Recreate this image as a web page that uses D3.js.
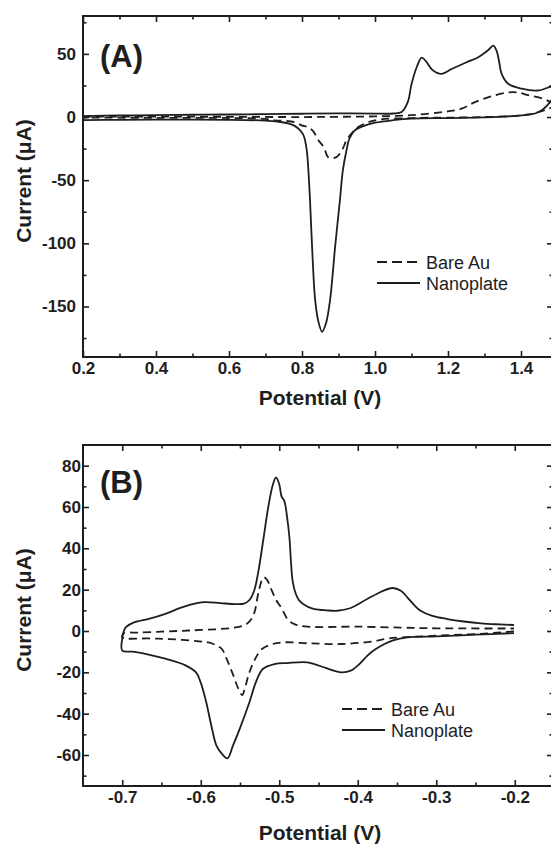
<!DOCTYPE html>
<html>
<head>
<meta charset="utf-8">
<script src="https://cdn.jsdelivr.net/npm/d3@7"></script>
<style>
  html, body { margin: 0; padding: 0; background: #fff; }
  svg { display: block; }
</style>
</head>
<body>
<svg id="fig" width="551" height="845"></svg>
<script>
// ---------- Panel A: potential (V) vs current (µA) ----------
const aXTicks = [0.2, 0.4, 0.6, 0.8, 1.0, 1.2, 1.4];
const aXMinor = [0.3, 0.5, 0.7, 0.9, 1.1, 1.3];
const aYTicks = [50, 0, -50, -100, -150];
const aYMinor = [75, 25, -25, -75, -125, -175];

// Nanoplate electrode, forward (anodic) sweep
const aNanoForward = [
  [0.20, 0.8], [0.30, 1.2], [0.40, 1.5], [0.50, 1.8], [0.60, 2.0], [0.70, 2.3],
  [0.80, 2.6], [0.90, 2.9], [1.00, 2.7], [1.05, 2.8], [1.073, 4], [1.09, 12],
  [1.10, 26], [1.115, 40], [1.128, 47], [1.14, 44], [1.155, 38], [1.17, 35],
  [1.183, 34.2], [1.21, 38], [1.251, 43.4], [1.283, 47.4], [1.31, 53],
  [1.324, 56.6], [1.333, 52.6], [1.34, 44], [1.347, 34.2], [1.365, 26.3],
  [1.402, 22.4], [1.447, 21], [1.482, 24.2], [1.50, 26]
];
// Nanoplate electrode, reverse (cathodic) sweep
const aNanoReverse = [
  [1.50, 22], [1.48, 12], [1.46, 6], [1.44, 3], [1.41, 1.5], [1.35, 0.3],
  [1.30, -0.3], [1.20, -0.8], [1.10, -1.3], [1.05, -2.5], [1.00, -4.5],
  [0.97, -7], [0.945, -10.5], [0.93, -17], [0.922, -26.3], [0.912, -42],
  [0.904, -65.7], [0.897, -85], [0.89, -105], [0.877, -144.7], [0.866, -163],
  [0.855, -170], [0.845, -162], [0.836, -144.7], [0.828, -105], [0.822, -66],
  [0.817, -40], [0.813, -26.3], [0.805, -15], [0.795, -10.5], [0.78, -7],
  [0.762, -5], [0.73, -3.5], [0.70, -2.8], [0.60, -2.2], [0.50, -2.1],
  [0.40, -2.1], [0.30, -2.2], [0.20, -2.4]
];
// Bare Au electrode, forward sweep
const aBareForward = [
  [0.20, 0.3], [0.40, 0.3], [0.60, 0.2], [0.80, 0.0], [0.90, 0.2], [1.00, 0.5],
  [1.10, 1.5], [1.20, 4.5], [1.237, 6.6], [1.274, 11.8], [1.32, 16.5],
  [1.365, 19.5], [1.39, 19.5], [1.42, 17.3], [1.46, 14.5], [1.48, 12], [1.50, 9]
];
// Bare Au electrode, reverse sweep
const aBareReverse = [
  [1.50, 9], [1.48, 7], [1.45, 4], [1.42, 2], [1.38, 0.8], [1.30, 0.0],
  [1.20, -0.5], [1.10, -0.8], [1.00, -2.6], [0.954, -7.9], [0.936, -13],
  [0.922, -18.4], [0.91, -26], [0.895, -31.6], [0.883, -32.5], [0.871, -31.6],
  [0.86, -24], [0.845, -18.4], [0.83, -11], [0.816, -8], [0.799, -6.6],
  [0.78, -4], [0.75, -3], [0.726, -2.6], [0.70, -1.5], [0.60, -0.8],
  [0.40, -0.6], [0.20, -0.5]
];

// ---------- Panel B ----------
const bXTicks = [-0.7, -0.6, -0.5, -0.4, -0.3, -0.2];
const bXMinor = [-0.65, -0.55, -0.45, -0.35, -0.25];
const bYTicks = [80, 60, 40, 20, 0, -20, -40, -60];
const bYMinor = [70, 50, 30, 10, -10, -30, -50, -70];

// Nanoplate electrode, reverse sweep (from -0.2 V down to -0.7 V)
const bNanoReverse = [
  [-0.201, -1], [-0.25, -1.8], [-0.30, -2.6], [-0.337, -3.1], [-0.355, -4.5],
  [-0.366, -6.3], [-0.378, -9], [-0.388, -12], [-0.398, -16], [-0.409, -19.2],
  [-0.421, -20], [-0.44, -18], [-0.464, -15.2], [-0.49, -15.5], [-0.506, -16],
  [-0.521, -18.4], [-0.53, -25], [-0.538, -34.5], [-0.55, -47], [-0.559, -55.5],
  [-0.566, -61.6], [-0.574, -59], [-0.58, -55.5], [-0.587, -45], [-0.593, -34.5],
  [-0.60, -25], [-0.606, -20], [-0.62, -16.5], [-0.644, -13.5], [-0.665, -11.5],
  [-0.687, -10], [-0.70, -9.5]
];
// Nanoplate electrode, forward sweep (from -0.7 V up to -0.2 V)
const bNanoForward = [
  [-0.70, -3.5], [-0.698, 0], [-0.695, 2], [-0.685, 4.2], [-0.665, 6],
  [-0.646, 8.2], [-0.624, 11.4], [-0.605, 13.5], [-0.594, 14], [-0.575, 13.5],
  [-0.556, 13], [-0.545, 13.2], [-0.538, 15], [-0.532, 19.5], [-0.527, 28],
  [-0.52, 45], [-0.514, 60], [-0.508, 71], [-0.504, 74.3], [-0.500, 71],
  [-0.497, 65], [-0.4936, 63], [-0.490, 55], [-0.487, 45], [-0.485, 33],
  [-0.483, 24.3], [-0.479, 18], [-0.4745, 14.7], [-0.465, 12], [-0.455, 10.6],
  [-0.44, 10], [-0.426, 9.8], [-0.41, 11], [-0.388, 15.5], [-0.37, 19],
  [-0.356, 20.8], [-0.345, 19.5], [-0.337, 16.3], [-0.328, 12.5], [-0.32, 9.8],
  [-0.305, 7.3], [-0.286, 5.8], [-0.265, 4.6], [-0.243, 3.7], [-0.22, 3.2],
  [-0.201, 2.9]
];
// Bare Au electrode, reverse sweep
const bBareReverse = [
  [-0.201, -0.2], [-0.25, -1.5], [-0.30, -2.3], [-0.36, -3.6], [-0.38, -5],
  [-0.42, -6.3], [-0.46, -6], [-0.496, -5.5], [-0.51, -6.5], [-0.522, -8.7],
  [-0.53, -13], [-0.538, -20], [-0.544, -28], [-0.547, -31], [-0.552, -28],
  [-0.559, -21], [-0.567, -13.5], [-0.573, -8.7], [-0.58, -7], [-0.59, -5.5],
  [-0.602, -5], [-0.64, -3.9], [-0.666, -3.6], [-0.70, -3.1]
];
// Bare Au electrode, forward sweep
const bBareForward = [
  [-0.698, -1.1], [-0.68, -0.8], [-0.65, -0.3], [-0.624, 0.1],
  [-0.60, 0.5], [-0.56, 1.5], [-0.543, 3], [-0.535, 6], [-0.531, 9.8],
  [-0.526, 19.5], [-0.52, 26], [-0.516, 25], [-0.51, 20], [-0.504, 15],
  [-0.497, 11], [-0.489, 5.5], [-0.48, 3.2], [-0.464, 2.1], [-0.40, 2.1],
  [-0.33, 1.5], [-0.30, 1.3], [-0.201, 1.2]
];

const legendLabels = ["Bare Au", "Nanoplate"];

// ---------- drawing ----------
const FONT = "'Liberation Sans', Arial, Helvetica, sans-serif";
const INK = "#1e1e1e";
const svg = d3.select("#fig");

function drawPanel(cfg) {
  const g = svg.append("g");
  const x = d3.scaleLinear().domain(cfg.xDomain).range([cfg.left, cfg.right]);
  const y = d3.scaleLinear().domain(cfg.yDomain).range([cfg.bottom, cfg.top]);

  const clipId = "clip-" + cfg.id;
  svg.append("defs").append("clipPath").attr("id", clipId)
    .append("rect")
    .attr("x", cfg.left).attr("y", cfg.top)
    .attr("width", cfg.right - cfg.left).attr("height", cfg.bottom - cfg.top);

  const line = d3.line()
    .x(d => x(d[0])).y(d => y(d[1]))
    .curve(d3.curveCatmullRom.alpha(0.5));

  const curves = g.append("g").attr("clip-path", `url(#${clipId})`);
  curves.append("path")
    .attr("d", line(cfg.bare))
    .attr("fill", "none").attr("stroke", INK)
    .attr("stroke-width", 1.8).attr("stroke-dasharray", "8,5")
    .attr("stroke-linejoin", "round");
  curves.append("path")
    .attr("d", line(cfg.nano))
    .attr("fill", "none").attr("stroke", INK)
    .attr("stroke-width", 1.8).attr("stroke-linejoin", "round");

  const fmt = cfg.xFmt;
  const major = 6, minor = 3.5;

  function styleAxis(sel) {
    sel.select(".domain").remove();
    sel.selectAll(".tick line").attr("stroke", INK).attr("stroke-width", 1.6);
    sel.selectAll(".tick text")
      .attr("fill", INK).style("font-family", FONT)
      .style("font-weight", "bold").style("font-size", cfg.tickFont + "px");
  }

  const inside = v => v > cfg.yDomain[0] && v < cfg.yDomain[1];

  // bottom
  g.append("g").attr("transform", `translate(0,${cfg.bottom})`)
    .call(d3.axisBottom(x).tickValues(cfg.xTicks).tickFormat(fmt)
      .tickSize(-major).tickPadding(cfg.xPad))
    .call(styleAxis);
  g.append("g").attr("transform", `translate(0,${cfg.bottom})`)
    .call(d3.axisBottom(x).tickValues(cfg.xMinor).tickFormat("").tickSize(-minor))
    .call(styleAxis);
  // top
  g.append("g").attr("transform", `translate(0,${cfg.top})`)
    .call(d3.axisTop(x).tickValues(cfg.xTicks).tickFormat("").tickSize(-major))
    .call(styleAxis);
  g.append("g").attr("transform", `translate(0,${cfg.top})`)
    .call(d3.axisTop(x).tickValues(cfg.xMinor).tickFormat("").tickSize(-minor))
    .call(styleAxis);
  // left
  g.append("g").attr("transform", `translate(${cfg.left},0)`)
    .call(d3.axisLeft(y).tickValues(cfg.yTicks).tickFormat(d => String(d))
      .tickSize(-major).tickPadding(cfg.yPad))
    .call(styleAxis);
  g.append("g").attr("transform", `translate(${cfg.left},0)`)
    .call(d3.axisLeft(y).tickValues(cfg.yMinor.filter(inside))
      .tickFormat("").tickSize(-minor))
    .call(styleAxis);
  // right
  g.append("g").attr("transform", `translate(${cfg.right},0)`)
    .call(d3.axisRight(y).tickValues(cfg.yTicks).tickFormat("").tickSize(-major))
    .call(styleAxis);
  g.append("g").attr("transform", `translate(${cfg.right},0)`)
    .call(d3.axisRight(y).tickValues(cfg.yMinor.filter(inside))
      .tickFormat("").tickSize(-minor))
    .call(styleAxis);

  // frame
  g.append("rect")
    .attr("x", cfg.left).attr("y", cfg.top)
    .attr("width", cfg.right - cfg.left).attr("height", cfg.bottom - cfg.top)
    .attr("fill", "none").attr("stroke", INK).attr("stroke-width", 2);

  // axis titles
  g.append("text")
    .attr("x", cfg.xTitleX).attr("y", cfg.xTitleY)
    .attr("text-anchor", "middle").attr("fill", INK)
    .style("font-family", FONT).style("font-weight", "bold").style("font-size", "21px")
    .text("Potential (V)");
  g.append("text")
    .attr("transform", `translate(${cfg.yTitleX},${cfg.yTitleY}) rotate(-90)`)
    .attr("text-anchor", "middle").attr("fill", INK)
    .style("font-family", FONT).style("font-weight", "bold").style("font-size", "21px")
    .text("Current (\u03BCA)");

  // panel tag
  g.append("text")
    .attr("x", cfg.tagX).attr("y", cfg.tagY).attr("fill", INK)
    .style("font-family", FONT).style("font-weight", "bold").style("font-size", "31px")
    .text(cfg.tag);

  // legend
  const lg = g.append("g");
  legendLabels.forEach((name, i) => {
    const ly = cfg.legendY + i * 21;
    lg.append("line")
      .attr("x1", cfg.legendX).attr("x2", cfg.legendX + 43)
      .attr("y1", ly).attr("y2", ly)
      .attr("stroke", INK).attr("stroke-width", 1.8)
      .attr("stroke-dasharray", i === 0 ? "10,5" : null);
    lg.append("text")
      .attr("x", cfg.legendX + 49).attr("y", ly + 6.5)
      .attr("fill", INK)
      .style("font-family", FONT).style("font-size", "18px")
      .text(name);
  });
}

drawPanel({
  id: "a", tag: "(A)",
  left: 83, right: 553, top: 16, bottom: 357,
  xDomain: [0.2, 1.4877], yDomain: [-190, 80],
  xTicks: aXTicks, xMinor: aXMinor, yTicks: aYTicks, yMinor: aYMinor,
  xFmt: d => d.toFixed(1), tickFont: 17, xPad: 5, yPad: 7,
  nano: aNanoForward.concat(aNanoReverse),
  bare: aBareForward.concat(aBareReverse),
  xTitleX: 320, xTitleY: 405, yTitleX: 31, yTitleY: 181,
  tagX: 100, tagY: 67,
  legendX: 377, legendY: 262
});

drawPanel({
  id: "b", tag: "(B)",
  left: 83, right: 553, top: 445, bottom: 786,
  xDomain: [-0.75, -0.1513], yDomain: [-75, 90],
  xTicks: bXTicks, xMinor: bXMinor, yTicks: bYTicks, yMinor: bYMinor,
  xFmt: d => d.toFixed(1), tickFont: 17, xPad: 5, yPad: 2,
  nano: bNanoReverse.concat(bNanoForward),
  bare: bBareReverse.concat(bBareForward),
  xTitleX: 320, xTitleY: 840, yTitleX: 31, yTitleY: 610,
  tagX: 100, tagY: 493,
  legendX: 342, legendY: 709
});
</script>
</body>
</html>
